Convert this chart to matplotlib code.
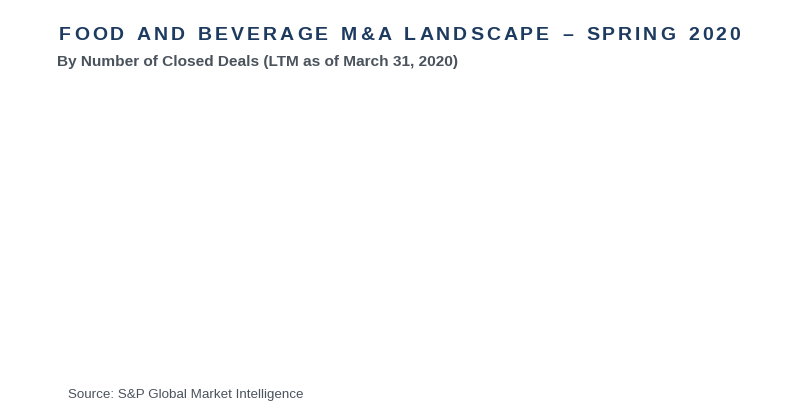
import matplotlib
matplotlib.use("Agg")
import matplotlib.pyplot as plt

# chart body is blank in the reference: no series drawn
categories = []
deal_counts = []

title = "FOOD AND BEVERAGE M&A LANDSCAPE \u2013 SPRING 2020"
subtitle = "By Number of Closed Deals (LTM as of March 31, 2020)"
source = "Source: S&P Global Market Intelligence"

W, H = 800, 419
fig = plt.figure(figsize=(W / 100, H / 100), dpi=100)
fig.patch.set_facecolor("white")

ax = fig.add_axes([0.08, 0.15, 0.88, 0.68])
ax.bar(categories, deal_counts, color="#1f3a5f")
ax.axis("off")

navy = "#1d3a5f"
gray = "#4a525c"

# title with letter tracking, drawn char by char
fig.canvas.draw()
r = fig.canvas.get_renderer()
x0, x1 = 59, 740
props = dict(fontsize=14, fontweight="bold", family="Liberation Sans", color=navy)
widths = []
for ch in title:
    t = fig.text(0, 0, ch if ch != " " else "n", **props)
    widths.append(t.get_window_extent(r).width * (0.6 if ch == " " else 1.0))
    t.remove()
track = (x1 - x0 - sum(widths)) / (len(title) - 1)
x = x0
for ch, w in zip(title, widths):
    if ch != " ":
        fig.text(x / W, 1 - 40 / H, ch, va="baseline", **props)
    x += w + track

fig.text(57 / W, 1 - 66 / H, subtitle, fontsize=11.1, fontweight="bold",
         family="Liberation Sans", color=gray, va="baseline")
fig.text(68 / W, 1 - 398 / H, source, fontsize=9.6,
         family="Liberation Sans", color=gray, va="baseline")

fig.savefig("out.png", dpi=100, facecolor="white")
